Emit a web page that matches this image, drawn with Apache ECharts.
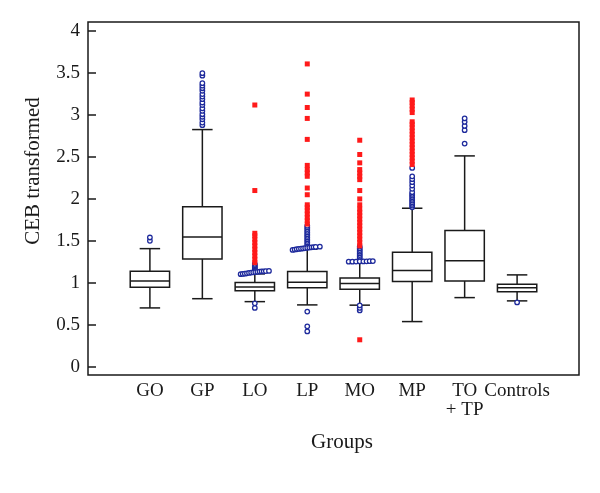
<!DOCTYPE html>
<html>
<head>
<meta charset="utf-8">
<script src="https://cdn.jsdelivr.net/npm/echarts@6.0.0/dist/echarts.min.js"></script>
<style>
  html, body { margin: 0; padding: 0; background: #fff; }
  #container { width: 600px; height: 493px; }
</style>
</head>
<body>
<div id="container"></div>
<script>
const categories = ['GO', 'GP', 'LO', 'LP', 'MO', 'MP', 'TO\n+ TP', 'Controls'];
const whiskerLow = [0.70, 0.81, 0.775, 0.736, 0.733, 0.537, 0.823, 0.784];
const q1 = [0.947, 1.284, 0.906, 0.942, 0.923, 1.014, 1.022, 0.894];
const median = [1.022, 1.547, 0.950, 1.006, 0.990, 1.145, 1.264, 0.942];
const q3 = [1.138, 1.908, 1.002, 1.133, 1.058, 1.364, 1.622, 0.983];
const whiskerHigh = [1.407, 2.827, 1.106, 1.400, 1.252, 1.889, 2.513, 1.094];
const yTicks = [0, 0.5, 1, 1.5, 2, 2.5, 3, 3.5, 4];

// outliers per group, same order as categories
const blueOutliers = [
  [1.50, 1.54],
  [2.88, 2.91, 2.95, 2.98, 3.01, 3.05, 3.08, 3.12, 3.15, 3.19, 3.22, 3.25, 3.29, 3.32, 3.35, 3.38, 3.47, 3.50],
  [0.70, 0.755, 1.15, 1.165, 1.18, 1.195, 1.21, 1.225],
  [0.42, 0.48, 0.656, 1.44, 1.46, 1.48, 1.50, 1.52, 1.54, 1.56, 1.58, 1.60, 1.62, 1.64, 1.66, 1.68],
  [0.67, 0.70, 0.73, 1.27, 1.29, 1.31, 1.33, 1.35, 1.37, 1.39, 1.41, 1.43],
  [1.90, 1.92, 1.94, 1.96, 1.98, 2.00, 2.02, 2.04, 2.06, 2.08, 2.12, 2.16, 2.20, 2.235, 2.27, 2.37],
  [2.66, 2.82, 2.87, 2.92, 2.96],
  [0.765]
];
const redOutliers = [
  [],
  [],
  [1.24, 1.28, 1.32, 1.36, 1.40, 1.44, 1.48, 1.52, 1.56, 1.59, 2.10, 3.12],
  [1.70, 1.74, 1.78, 1.82, 1.86, 1.90, 1.93, 2.05, 2.13, 2.27, 2.31, 2.35, 2.40, 2.71, 2.96, 3.09, 3.25, 3.61],
  [0.32, 1.44, 1.48, 1.52, 1.56, 1.60, 1.64, 1.68, 1.72, 1.76, 1.80, 1.84, 1.88, 1.93, 2.00, 2.10, 2.23, 2.27, 2.31, 2.35, 2.43, 2.53, 2.70],
  [2.41, 2.45, 2.49, 2.53, 2.57, 2.61, 2.65, 2.69, 2.73, 2.77, 2.81, 2.85, 2.89, 2.92, 3.03, 3.07, 3.11, 3.15, 3.18],
  [],
  []
];
// tied outliers drawn side by side: [group index, horizontal offset, value]
const blueSpread = [
  [2, -0.27, 1.102], [2, -0.23, 1.106], [2, -0.19, 1.109], [2, -0.15, 1.113], [2, -0.11, 1.117],
  [2, -0.07, 1.121], [2, -0.03, 1.124], [2, 0.01, 1.128], [2, 0.05, 1.131], [2, 0.09, 1.133],
  [2, 0.13, 1.135], [2, 0.17, 1.137], [2, 0.21, 1.139], [2, 0.27, 1.141],
  [3, -0.28, 1.392], [3, -0.24, 1.396], [3, -0.20, 1.400], [3, -0.16, 1.404], [3, -0.12, 1.407],
  [3, -0.08, 1.410], [3, -0.04, 1.414], [3, 0.00, 1.417], [3, 0.04, 1.420], [3, 0.08, 1.423],
  [3, 0.12, 1.425], [3, 0.16, 1.427], [3, 0.24, 1.431],
  [4, -0.21, 1.252], [4, -0.14, 1.252], [4, -0.07, 1.253], [4, 0.00, 1.254], [4, 0.07, 1.255],
  [4, 0.13, 1.256], [4, 0.19, 1.257], [4, 0.25, 1.259]
];

const ink = '#1a1a1a';
const blue = '#1e2a9c';
const red = '#ff1a1a';
const serif = '"Liberation Serif", "DejaVu Serif", serif';

const boxData = categories.map((c, i) => [i + 1, whiskerLow[i], q1[i], median[i], q3[i], whiskerHigh[i]]);

const blueData = [];
blueOutliers.forEach((vals, i) => vals.forEach(v => blueData.push([i + 1, v])));
blueSpread.forEach(p => blueData.push([p[0] + 1 + p[1], p[2]]));
const redData = [];
redOutliers.forEach((vals, i) => vals.forEach(v => redData.push([i + 1, v])));

function renderBox(params, api) {
  const x = api.value(0);
  const lo = api.coord([x, api.value(1)]);
  const b1 = api.coord([x, api.value(2)]);
  const md = api.coord([x, api.value(3)]);
  const b3 = api.coord([x, api.value(4)]);
  const hi = api.coord([x, api.value(5)]);
  const w = api.size([0.75, 0])[0];
  const cw = api.size([0.39, 0])[0];
  const cx = lo[0];
  const style = { stroke: ink, lineWidth: 1.5, fill: null };
  const line = (x1, y1, x2, y2) => ({ type: 'line', shape: { x1, y1, x2, y2 }, style });
  return {
    type: 'group',
    children: [
      line(cx, b3[1], cx, hi[1]),
      line(cx, b1[1], cx, lo[1]),
      line(cx - cw / 2, hi[1], cx + cw / 2, hi[1]),
      line(cx - cw / 2, lo[1], cx + cw / 2, lo[1]),
      { type: 'rect', shape: { x: cx - w / 2, y: b3[1], width: w, height: b1[1] - b3[1] },
        style: { stroke: ink, lineWidth: 1.5, fill: '#fff' } },
      line(cx - w / 2, md[1], cx + w / 2, md[1])
    ]
  };
}

const myChart = echarts.init(document.getElementById('container'), null, { renderer: 'canvas' });
const option = {
  animation: false,
  backgroundColor: '#fff',
  grid: {
    left: 88, right: 21, top: 22, bottom: 118,
    show: true, borderColor: ink, borderWidth: 1.5, backgroundColor: 'transparent'
  },
  xAxis: {
    type: 'value',
    min: -0.18,
    max: 9.18,
    axisLine: { show: false, onZero: false },
    axisTick: { show: false },
    splitLine: { show: false },
    axisLabel: {
      customValues: categories.map((c, i) => i + 1),
      formatter: v => categories[Math.round(v) - 1],
      hideOverlap: false,
      color: ink,
      fontFamily: serif,
      fontSize: 19,
      lineHeight: 19,
      margin: 7
    }
  },
  yAxis: {
    type: 'value',
    min: -0.1,
    max: 4.11,
    axisLine: { show: false, onZero: false },
    splitLine: { show: false },
    axisTick: {
      show: true, inside: true, length: 8,
      customValues: yTicks,
      lineStyle: { color: ink, width: 1.5 }
    },
    axisLabel: {
      customValues: yTicks,
      color: ink,
      fontFamily: serif,
      fontSize: 19,
      margin: 8
    }
  },
  graphic: [
    {
      type: 'text', x: 33, y: 171, rotation: Math.PI / 2,
      style: { text: 'CEB transformed', fill: ink, font: '21px ' + serif, align: 'center', verticalAlign: 'middle' }
    },
    {
      type: 'text', x: 342, y: 442,
      style: { text: 'Groups', fill: ink, font: '21px ' + serif, align: 'center', verticalAlign: 'middle' }
    }
  ],
  series: [
    {
      type: 'custom',
      renderItem: renderBox,
      encode: { x: 0, y: [1, 2, 3, 4, 5] },
      data: boxData,
      z: 2
    },
    {
      type: 'scatter',
      symbol: 'circle',
      symbolSize: 4.5,
      itemStyle: { color: '#fff', borderColor: blue, borderWidth: 1.3, opacity: 1 },
      data: blueData,
      z: 3
    },
    {
      type: 'scatter',
      symbol: 'rect',
      symbolSize: 5,
      itemStyle: { color: red, opacity: 1 },
      data: redData,
      z: 4
    }
  ]
};
myChart.setOption(option);
</script>
</body>
</html>
